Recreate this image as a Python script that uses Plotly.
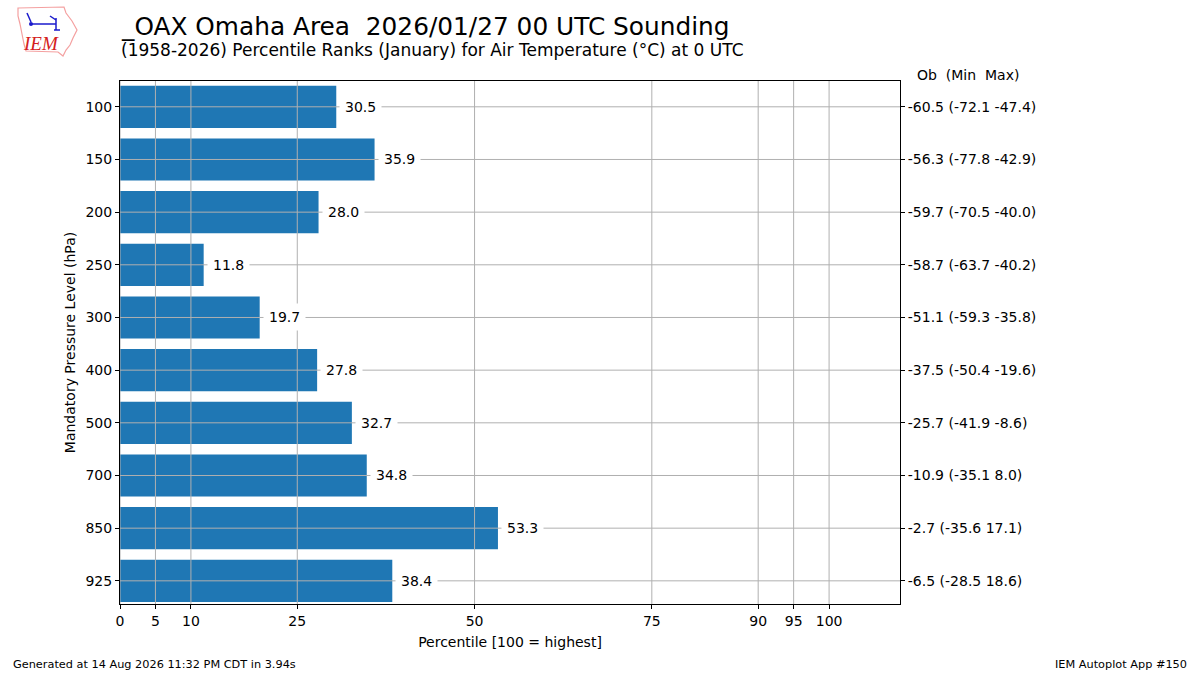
import plotly.graph_objects as go

levels = ["100", "150", "200", "250", "300", "400", "500", "700", "850", "925"]
percentiles = [30.5, 35.9, 28.0, 11.8, 19.7, 27.8, 32.7, 34.8, 53.3, 38.4]
obs_labels = ["-60.5 (-72.1 -47.4)", "-56.3 (-77.8 -42.9)", "-59.7 (-70.5 -40.0)",
              "-58.7 (-63.7 -40.2)", "-51.1 (-59.3 -35.8)", "-37.5 (-50.4 -19.6)",
              "-25.7 (-41.9 -8.6)", "-10.9 (-35.1 8.0)", "-2.7 (-35.6 17.1)",
              "-6.5 (-28.5 18.6)"]
xticks = [0, 5, 10, 25, 50, 75, 90, 95, 100]

FONT = "DejaVu Sans"
W, H = 1200, 675
ML, MR, MT, MB = 120, 300, 81, 71
idx = list(range(len(levels)))


def px(x):
    return (x - ML) / (W - ML - MR)


def py(y):
    return (H - MB - y) / (H - MT - MB)


fig = go.Figure()
fig.add_trace(go.Bar(y=idx, x=percentiles, orientation="h", width=0.8,
                     marker=dict(color="#1f77b4", line=dict(width=0)),
                     hoverinfo="skip", showlegend=False))
fig.add_trace(go.Scatter(y=idx, x=[0] * len(idx), yaxis="y2", mode="markers",
                         marker=dict(opacity=0), showlegend=False, hoverinfo="skip"))

shapes = []
for t in xticks:
    shapes.append(dict(type="line", xref="x", yref="paper", x0=t, x1=t, y0=0, y1=1,
                       line=dict(color="#b0b0b0", width=1), layer="above"))
for i in idx:
    shapes.append(dict(type="line", xref="paper", yref="y", x0=0, x1=1, y0=i, y1=i,
                       line=dict(color="#b0b0b0", width=1), layer="above"))

# IEM logo (approximate decoration)
outline = [(18, 8), (64, 7), (66, 13), (72, 21), (77, 30), (73, 38), (70, 45),
           (66, 50), (63, 56), (58, 52), (26, 51), (24, 44), (22, 34), (20, 24),
           (18, 16)]
path = "M " + " L ".join(f"{px(a):.5f},{py(b):.5f}" for a, b in outline) + " Z"
shapes.append(dict(type="path", xref="paper", yref="paper", path=path,
                   line=dict(color="#f4a0a0", width=1.2)))
logo_lines = [((31, 24), (56, 24)), ((27, 13), (31, 22)), ((50, 16), (56, 20)),
              ((56, 18), (56, 30)), ((54, 30), (60, 30))]
for (a, b), (c, d) in logo_lines:
    shapes.append(dict(type="line", xref="paper", yref="paper", x0=px(a), y0=py(b),
                       x1=px(c), y1=py(d), line=dict(color="#1a1acc", width=1.5)))
shapes.append(dict(type="circle", xref="paper", yref="paper", x0=px(29), y0=py(22),
                   x1=px(33), y1=py(26), fillcolor="#1a1acc", line=dict(width=0)))

annotations = []
for i, v in zip(idx, percentiles):
    annotations.append(dict(x=v, y=i, xref="x", yref="y", text=f"{v:.1f}",
                            showarrow=False, xanchor="left", xshift=3,
                            font=dict(family=FONT, size=14, color="black"),
                            bgcolor="white", borderpad=5))

annotations += [
    dict(x=px(119), y=py(26), xref="paper", yref="paper",
         text="_OAX Omaha Area  2026/01/27 00 UTC Sounding",
         showarrow=False, xanchor="left", yanchor="middle",
         font=dict(family=FONT, size=24.8, color="black")),
    dict(x=px(119), y=py(50), xref="paper", yref="paper",
         text="(1958-2026) Percentile Ranks (January) for Air Temperature (°C) at 0 UTC",
         showarrow=False, xanchor="left", yanchor="middle",
         font=dict(family=FONT, size=17, color="black")),
    dict(x=px(915), y=py(75), xref="paper", yref="paper", text="Ob  (Min  Max)",
         showarrow=False, xanchor="left", yanchor="middle",
         font=dict(family=FONT, size=14, color="black")),
    dict(x=px(11), y=py(664), xref="paper", yref="paper",
         text="Generated at 14 Aug 2026 11:32 PM CDT in 3.94s",
         showarrow=False, xanchor="left", yanchor="middle",
         font=dict(family=FONT, size=11.3, color="black")),
    dict(x=px(1189), y=py(664), xref="paper", yref="paper", text="IEM Autoplot App #150",
         showarrow=False, xanchor="right", yanchor="middle",
         font=dict(family=FONT, size=11.3, color="black")),
    dict(x=px(21), y=py(44), xref="paper", yref="paper", text="<i>IEM</i>",
         showarrow=False, xanchor="left", yanchor="middle",
         font=dict(family="Liberation Serif", size=19, color="#d42020")),
]

fig.update_layout(
    width=W, height=H,
    margin=dict(l=ML, r=MR, t=MT, b=MB),
    plot_bgcolor="white", paper_bgcolor="white",
    font=dict(family=FONT, size=14, color="black"),
    xaxis=dict(range=[0, 110], tickvals=xticks, showgrid=False, zeroline=False,
               showline=True, linecolor="black", linewidth=1, mirror=True,
               ticks="outside", ticklen=4, tickcolor="black",
               title=dict(text="Percentile [100 = highest]", font=dict(size=14), standoff=9)),
    yaxis=dict(range=[9.44, -0.49], tickvals=idx, ticktext=levels, showgrid=False,
               zeroline=False, showline=True, linecolor="black", linewidth=1, mirror=True,
               ticks="outside", ticklen=4, tickcolor="black",
               title=dict(text="Mandatory Pressure Level (hPa)", font=dict(size=14), standoff=6)),
    yaxis2=dict(range=[9.44, -0.49], tickvals=idx, ticktext=obs_labels, overlaying="y",
                side="right", showgrid=False, zeroline=False, ticks="outside", ticklen=4,
                tickcolor="black", showline=False),
    shapes=shapes,
    annotations=annotations,
)

fig.write_html("out.html", config={"displayModeBar": False},
               post_script="document.body.style.margin='0';document.body.style.overflow='hidden';")
